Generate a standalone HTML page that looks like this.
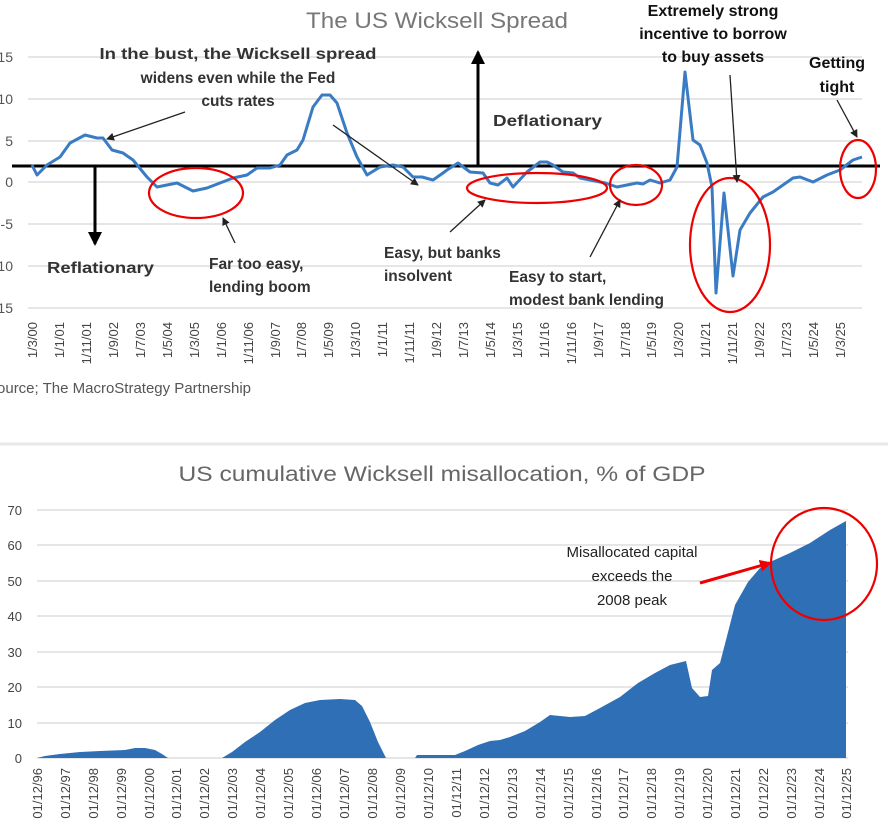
<!DOCTYPE html>
<html><head><meta charset="utf-8"><style>
html,body{margin:0;padding:0;background:#fff;}
svg{display:block;font-family:"Liberation Sans",sans-serif;}
</style></head><body>
<svg width="888" height="828" viewBox="0 0 888 828" xmlns="http://www.w3.org/2000/svg">
<defs>
<marker id="ah" markerWidth="8" markerHeight="8" refX="7" refY="4" orient="auto" markerUnits="userSpaceOnUse"><path d="M0,0 L8,4 L0,8 z" fill="#222"/></marker>
<marker id="ahb" markerWidth="14" markerHeight="14" refX="12" refY="7" orient="auto" markerUnits="userSpaceOnUse"><path d="M0,0 L14,7 L0,14 z" fill="#000"/></marker>
<marker id="ahr" markerWidth="12" markerHeight="12" refX="10" refY="6" orient="auto" markerUnits="userSpaceOnUse"><path d="M0,0 L12,6 L0,12 z" fill="#e00"/></marker>
</defs>
<!-- TOP CHART -->
<text x="437" y="28" text-anchor="middle" font-size="22" fill="#777" textLength="262" lengthAdjust="spacingAndGlyphs">The US Wicksell Spread</text>
<g stroke="#ddd" stroke-width="1.5">
<line x1="28" y1="57" x2="862" y2="57"/><line x1="28" y1="99" x2="862" y2="99"/>
<line x1="28" y1="141" x2="862" y2="141"/><line x1="28" y1="182" x2="862" y2="182"/>
<line x1="28" y1="224" x2="862" y2="224"/><line x1="28" y1="266" x2="862" y2="266"/>
<line x1="28" y1="308" x2="862" y2="308"/>
</g>
<g font-size="14" fill="#555" text-anchor="end">
<text x="13" y="62">15</text><text x="13" y="104">10</text><text x="13" y="146">5</text>
<text x="13" y="187">0</text><text x="13" y="229">-5</text><text x="13" y="271">-10</text><text x="13" y="313">-15</text>
</g>
<g font-size="13" fill="#444" text-anchor="end">
<text transform="translate(37,322) rotate(-90)">1/3/00</text>
<text transform="translate(64,322) rotate(-90)">1/1/01</text>
<text transform="translate(91,322) rotate(-90)">1/11/01</text>
<text transform="translate(118,322) rotate(-90)">1/9/02</text>
<text transform="translate(145,322) rotate(-90)">1/7/03</text>
<text transform="translate(172,322) rotate(-90)">1/5/04</text>
<text transform="translate(199,322) rotate(-90)">1/3/05</text>
<text transform="translate(226,322) rotate(-90)">1/1/06</text>
<text transform="translate(253,322) rotate(-90)">1/11/06</text>
<text transform="translate(280,322) rotate(-90)">1/9/07</text>
<text transform="translate(306,322) rotate(-90)">1/7/08</text>
<text transform="translate(333,322) rotate(-90)">1/5/09</text>
<text transform="translate(360,322) rotate(-90)">1/3/10</text>
<text transform="translate(387,322) rotate(-90)">1/1/11</text>
<text transform="translate(414,322) rotate(-90)">1/11/11</text>
<text transform="translate(441,322) rotate(-90)">1/9/12</text>
<text transform="translate(468,322) rotate(-90)">1/7/13</text>
<text transform="translate(495,322) rotate(-90)">1/5/14</text>
<text transform="translate(522,322) rotate(-90)">1/3/15</text>
<text transform="translate(549,322) rotate(-90)">1/1/16</text>
<text transform="translate(576,322) rotate(-90)">1/11/16</text>
<text transform="translate(603,322) rotate(-90)">1/9/17</text>
<text transform="translate(630,322) rotate(-90)">1/7/18</text>
<text transform="translate(656,322) rotate(-90)">1/5/19</text>
<text transform="translate(683,322) rotate(-90)">1/3/20</text>
<text transform="translate(710,322) rotate(-90)">1/1/21</text>
<text transform="translate(737,322) rotate(-90)">1/11/21</text>
<text transform="translate(764,322) rotate(-90)">1/9/22</text>
<text transform="translate(791,322) rotate(-90)">1/7/23</text>
<text transform="translate(818,322) rotate(-90)">1/5/24</text>
<text transform="translate(845,322) rotate(-90)">1/3/25</text>
</g>
<line x1="12" y1="166" x2="880" y2="166" stroke="#000" stroke-width="3"/>
<polyline fill="none" stroke="#3a7cc4" stroke-width="3" stroke-linejoin="round" points="32,165 37,175 47,165 60,157 70,143 85,135 97,138 103,138 112,150 123,153 133,160 147,177 157,187 177,183 193,191 207,188 233,178 247,175 257,168 270,168 280,165 287,155 297,150 303,140 313,107 322,95 330,95 337,103 347,133 357,157 367,175 380,167 393,165 403,167 413,177 422,177 433,180 443,173 447,170 458,163 470,172 483,173 490,183 498,185 507,178 513,187 527,172 540,162 547,162 553,165 563,172 573,173 580,178 590,180 605,183 617,187 627,185 637,183 643,184 650,180 660,183 670,180 677,167 685,72 693,140 700,145 707,163 712,187 716,293 724,193 733,276 740,230 750,213 763,197 773,192 793,178 800,177 813,182 827,175 840,170 853,160 862,157"/>
<g fill="none" stroke="#e00" stroke-width="2.2">
<ellipse cx="196" cy="193" rx="47" ry="25"/>
<ellipse cx="537" cy="188" rx="70" ry="15"/>
<ellipse cx="636" cy="185" rx="26" ry="20"/>
<ellipse cx="730" cy="245" rx="40" ry="67"/>
<ellipse cx="858" cy="169" rx="18" ry="29"/>
</g>
<line x1="478" y1="166" x2="478" y2="52" stroke="#000" stroke-width="3" marker-end="url(#ahb)"/>
<line x1="95" y1="166" x2="95" y2="244" stroke="#000" stroke-width="3" marker-end="url(#ahb)"/>
<g stroke="#222" stroke-width="1.3" marker-end="url(#ah)">
<line x1="185" y1="112" x2="107" y2="139"/>
<line x1="333" y1="125" x2="418" y2="185"/>
<line x1="235" y1="243" x2="223" y2="218"/>
<line x1="450" y1="232" x2="485" y2="200"/>
<line x1="590" y1="257" x2="620" y2="200"/>
<line x1="730" y1="75" x2="737" y2="182"/>
<line x1="837" y1="100" x2="857" y2="137"/>
</g>
<g font-size="15.5" fill="#333" font-weight="bold">
<text x="238" y="59" text-anchor="middle" textLength="277" lengthAdjust="spacingAndGlyphs">In the bust, the Wicksell spread</text>
<text x="238" y="83" text-anchor="middle">widens even while the Fed</text>
<text x="238" y="106" text-anchor="middle">cuts rates</text>
<text x="493" y="126" textLength="109" lengthAdjust="spacingAndGlyphs">Deflationary</text>
<text x="47" y="273" textLength="107" lengthAdjust="spacingAndGlyphs">Reflationary</text>
<text x="209" y="269">Far too easy,</text>
<text x="209" y="292">lending boom</text>
<text x="384" y="258">Easy, but banks</text>
<text x="384" y="281">insolvent</text>
<text x="509" y="282">Easy to start,</text>
<text x="509" y="305">modest bank lending</text>
</g>
<g font-size="16" fill="#111" font-weight="bold" text-anchor="middle">
<text x="713" y="16">Extremely strong</text>
<text x="713" y="39">incentive to borrow</text>
<text x="713" y="62">to buy assets</text>
<text x="837" y="68">Getting</text>
<text x="837" y="92">tight</text>
</g>
<text x="-13" y="393" font-size="15" fill="#555">Source; The MacroStrategy Partnership</text>
<line x1="0" y1="444" x2="888" y2="444" stroke="#e8e8e8" stroke-width="3"/>
<!-- BOTTOM CHART -->
<text x="442" y="481" text-anchor="middle" font-size="21" fill="#666" textLength="527" lengthAdjust="spacingAndGlyphs">US cumulative Wicksell misallocation, % of GDP</text>
<g stroke="#ddd" stroke-width="1.5">
<line x1="37" y1="510" x2="848" y2="510"/><line x1="37" y1="545" x2="848" y2="545"/>
<line x1="37" y1="581" x2="848" y2="581"/><line x1="37" y1="616" x2="848" y2="616"/>
<line x1="37" y1="652" x2="848" y2="652"/><line x1="37" y1="687" x2="848" y2="687"/>
<line x1="37" y1="723" x2="848" y2="723"/><line x1="37" y1="758" x2="848" y2="758"/>
</g>
<g font-size="13" fill="#444" text-anchor="end">
<text x="22" y="515">70</text><text x="22" y="550">60</text><text x="22" y="586">50</text>
<text x="22" y="621">40</text><text x="22" y="657">30</text><text x="22" y="692">20</text>
<text x="22" y="728">10</text><text x="22" y="763">0</text>
</g>
<path fill="#2f6fb5" d="M37,758 L45,756 L60,754 L80,752 L100,751 L125,750 L135,748 L145,748 L155,750 L162,754 L168,758 Z
M222,758 L232,752 L245,742 L260,732 L275,720 L290,710 L305,703 L320,700 L340,699 L355,700 L362,706 L370,722 L378,742 L386,758 Z
M415,758 L417,755 L430,755 L455,755 L465,751 L478,745 L490,741 L500,740 L510,737 L525,731 L540,722 L550,715 L560,716 L570,717 L585,716 L600,708 L620,697 L638,683 L655,673 L670,665 L686,661 L692,688 L700,697 L708,696 L712,670 L720,663 L726,640 L735,605 L748,582 L760,568 L770,562 L790,553 L810,543 L830,530 L846,521 L846,758 Z"/>
<g font-size="13" fill="#444" text-anchor="end">
<text transform="translate(42,768) rotate(-90)">01/12/96</text>
<text transform="translate(70,768) rotate(-90)">01/12/97</text>
<text transform="translate(98,768) rotate(-90)">01/12/98</text>
<text transform="translate(126,768) rotate(-90)">01/12/99</text>
<text transform="translate(154,768) rotate(-90)">01/12/00</text>
<text transform="translate(181,768) rotate(-90)">01/12/01</text>
<text transform="translate(209,768) rotate(-90)">01/12/02</text>
<text transform="translate(237,768) rotate(-90)">01/12/03</text>
<text transform="translate(265,768) rotate(-90)">01/12/04</text>
<text transform="translate(293,768) rotate(-90)">01/12/05</text>
<text transform="translate(321,768) rotate(-90)">01/12/06</text>
<text transform="translate(349,768) rotate(-90)">01/12/07</text>
<text transform="translate(377,768) rotate(-90)">01/12/08</text>
<text transform="translate(405,768) rotate(-90)">01/12/09</text>
<text transform="translate(433,768) rotate(-90)">01/12/10</text>
<text transform="translate(461,768) rotate(-90)">01/12/11</text>
<text transform="translate(489,768) rotate(-90)">01/12/12</text>
<text transform="translate(517,768) rotate(-90)">01/12/13</text>
<text transform="translate(545,768) rotate(-90)">01/12/14</text>
<text transform="translate(573,768) rotate(-90)">01/12/15</text>
<text transform="translate(601,768) rotate(-90)">01/12/16</text>
<text transform="translate(628,768) rotate(-90)">01/12/17</text>
<text transform="translate(656,768) rotate(-90)">01/12/18</text>
<text transform="translate(684,768) rotate(-90)">01/12/19</text>
<text transform="translate(712,768) rotate(-90)">01/12/20</text>
<text transform="translate(740,768) rotate(-90)">01/12/21</text>
<text transform="translate(768,768) rotate(-90)">01/12/22</text>
<text transform="translate(796,768) rotate(-90)">01/12/23</text>
<text transform="translate(824,768) rotate(-90)">01/12/24</text>
<text transform="translate(851,768) rotate(-90)">01/12/25</text>
</g>
<g font-size="15" fill="#222" text-anchor="middle">
<text x="632" y="557">Misallocated capital</text>
<text x="632" y="581">exceeds the</text>
<text x="632" y="605">2008 peak</text>
</g>
<line x1="700" y1="583" x2="770" y2="563" stroke="#e00" stroke-width="3" marker-end="url(#ahr)"/>
<ellipse cx="824" cy="564" rx="53" ry="56" fill="none" stroke="#e00" stroke-width="2.2"/>
</svg>
</body></html>
